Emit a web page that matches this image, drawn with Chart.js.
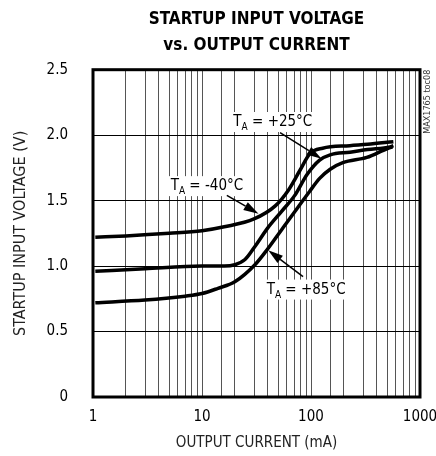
<!DOCTYPE html>
<html>
<head>
<meta charset="utf-8">
<script src="https://cdn.jsdelivr.net/npm/chart.js@4.4.0/dist/chart.umd.min.js"></script>
<style>
  html, body { margin: 0; padding: 0; background: #fff; }
  #wrap { width: 436px; height: 456px; }
</style>
</head>
<body>
<div id="wrap"><canvas id="chart" width="436" height="456"></canvas></div>
<script>
// Datos (corriente en mA, tensión en V)
const currentCold = [1.05, 2, 5, 10, 16, 30, 47, 62, 79, 98, 128, 227, 330, 570];
const voltageCold = [1.22, 1.23, 1.25, 1.27, 1.30, 1.36, 1.46, 1.58, 1.73, 1.86, 1.90, 1.92, 1.93, 1.95];

const currentRoom = [1.05, 3, 10, 16, 20, 24.8, 30.6, 40, 54, 71, 92, 120, 150, 228, 330, 530, 570];
const voltageRoom = [0.96, 0.98, 1.00, 1.00, 1.01, 1.05, 1.15, 1.29, 1.42, 1.54, 1.70, 1.81, 1.85, 1.87, 1.89, 1.91, 1.92];

const currentHot = [1.05, 3, 7, 10, 14, 20, 30.6, 40, 54, 76, 97, 120, 150, 196, 325, 510, 560];
const voltageHot = [0.72, 0.74, 0.77, 0.79, 0.83, 0.88, 1.01, 1.13, 1.28, 1.45, 1.57, 1.67, 1.74, 1.79, 1.83, 1.90, 1.91];

const xTickLabels = [1, 10, 100, 1000];
const yTickValues = [0, 0.5, 1.0, 1.5, 2.0, 2.5];
const yTickLabels = ['0', '0.5', '1.0', '1.5', '2.0', '2.5'];

// Etiquetas de temperatura (posición en coordenadas de datos)
const tempLabels = [
  { text: ' = +25°C', textX: 19.4, textY: 2.07, tailX: 52, tailY: 2.02, tipX: 125, tipY: 1.82 },
  { text: ' = -40°C', textX: 5.16, textY: 1.58, tailX: 16.9, tailY: 1.54, tipX: 33, tipY: 1.40 },
  { text: ' = +85°C', textX: 39.2, textY: 0.79, tailX: 84.5, tailY: 0.92, tipX: 40.5, tipY: 1.12 }
];

const FONT = '"Liberation Sans Narrow", "DejaVu Sans Condensed", "Arial Narrow", sans-serif';

const toPoints = (xs, ys) => xs.map((x, i) => ({ x: x, y: ys[i] }));

const curveStyle = {
  borderColor: '#000',
  borderWidth: 3.5,
  pointRadius: 0,
  fill: false,
  cubicInterpolationMode: 'monotone'
};

// Marco grueso alrededor del área del gráfico y texto lateral
const framePlugin = {
  id: 'frame',
  afterDraw(chart) {
    const { ctx, chartArea: a } = chart;
    ctx.save();
    ctx.strokeStyle = '#000';
    ctx.lineWidth = 3;
    ctx.strokeRect(a.left, a.top, a.right - a.left, a.bottom - a.top);

    ctx.translate(428, a.top);
    ctx.rotate(-Math.PI / 2);
    ctx.font = '9px ' + FONT;
    ctx.fillStyle = '#333';
    ctx.textAlign = 'right';
    ctx.textBaseline = 'middle';
    ctx.fillText('MAX1765 toc08', 0, 0);
    ctx.restore();
  }
};

// Etiquetas T_A con flecha
const labelPlugin = {
  id: 'tempLabels',
  afterDatasetsDraw(chart) {
    const { ctx, scales } = chart;
    const xs = scales.x, ys = scales.y;
    ctx.save();
    tempLabels.forEach(l => {
      const x0 = xs.getPixelForValue(l.textX);
      const base = ys.getPixelForValue(l.textY);
      ctx.font = '15px ' + FONT;
      const wT = ctx.measureText('T').width;
      const wRest = ctx.measureText(l.text).width;
      ctx.font = '10px ' + FONT;
      const wA = ctx.measureText('A').width;
      const total = wT + wA + wRest;

      ctx.fillStyle = '#fff';
      ctx.fillRect(x0 - 2, base - 14, total + 4, 20);

      ctx.fillStyle = '#000';
      ctx.textBaseline = 'alphabetic';
      ctx.textAlign = 'left';
      ctx.font = '15px ' + FONT;
      ctx.fillText('T', x0, base);
      ctx.font = '10px ' + FONT;
      ctx.fillText('A', x0 + wT, base + 4);
      ctx.font = '15px ' + FONT;
      ctx.fillText(l.text, x0 + wT + wA, base);

      // flecha
      const tx = xs.getPixelForValue(l.tailX), ty = ys.getPixelForValue(l.tailY);
      const px = xs.getPixelForValue(l.tipX), py = ys.getPixelForValue(l.tipY);
      const ang = Math.atan2(py - ty, px - tx);
      const len = 15, half = 4.5;
      const bx = px - len * Math.cos(ang), by = py - len * Math.sin(ang);
      ctx.strokeStyle = '#000';
      ctx.lineWidth = 1.5;
      ctx.beginPath();
      ctx.moveTo(tx, ty);
      ctx.lineTo(bx, by);
      ctx.stroke();
      ctx.beginPath();
      ctx.moveTo(px, py);
      ctx.lineTo(bx + half * Math.sin(ang), by - half * Math.cos(ang));
      ctx.lineTo(bx - half * Math.sin(ang), by + half * Math.cos(ang));
      ctx.closePath();
      ctx.fill();
    });
    ctx.restore();
  }
};

new Chart(document.getElementById('chart'), {
  type: 'line',
  data: {
    datasets: [
      Object.assign({ label: 'TA = -40°C', data: toPoints(currentCold, voltageCold) }, curveStyle),
      Object.assign({ label: 'TA = +25°C', data: toPoints(currentRoom, voltageRoom) }, curveStyle),
      Object.assign({ label: 'TA = +85°C', data: toPoints(currentHot, voltageHot) }, curveStyle)
    ]
  },
  options: {
    responsive: false,
    animation: false,
    layout: { padding: { left: 0, right: 16, top: 0, bottom: 0 } },
    plugins: {
      legend: { display: false },
      tooltip: { enabled: false },
      title: {
        display: true,
        fullSize: false,
        text: ['STARTUP INPUT VOLTAGE', 'vs. OUTPUT CURRENT'],
        color: '#000',
        font: { family: FONT, size: 17, weight: 'bold', lineHeight: 1.55 },
        padding: { top: 6, bottom: 11 }
      }
    },
    scales: {
      x: {
        type: 'logarithmic',
        min: 1,
        max: 1000,
        border: { display: false },
        grid: { color: '#555', lineWidth: 1, drawTicks: false },
        ticks: {
          autoSkip: false,
          maxRotation: 0,
          padding: 11,
          color: '#000',
          font: { family: FONT, size: 15 },
          callback: v => (xTickLabels.includes(v) ? String(v) : '')
        },
        title: {
          display: true,
          text: 'OUTPUT CURRENT (mA)',
          color: '#222',
          font: { family: FONT, size: 15 },
          padding: { top: 0, bottom: 4 }
        },
        afterFit: axis => {
          axis.height = 59;
          axis.paddingLeft = 0;
          axis.paddingRight = 0;
        }
      },
      y: {
        min: 0,
        max: 2.5,
        border: { display: false },
        grid: { color: '#000', lineWidth: 1, drawTicks: false },
        afterBuildTicks: axis => { axis.ticks = yTickValues.map(v => ({ value: v })); },
        ticks: {
          padding: 25,
          color: '#000',
          font: { family: FONT, size: 15 },
          callback: v => yTickLabels[yTickValues.indexOf(v)]
        },
        title: {
          display: true,
          text: 'STARTUP INPUT VOLTAGE (V)',
          color: '#222',
          font: { family: FONT, size: 16 },
          padding: { top: 11, bottom: 0 }
        },
        afterFit: axis => {
          axis.width = 93;
          axis.paddingTop = 0;
          axis.paddingBottom = 0;
        }
      }
    }
  },
  plugins: [labelPlugin, framePlugin]
});
</script>
</body>
</html>
